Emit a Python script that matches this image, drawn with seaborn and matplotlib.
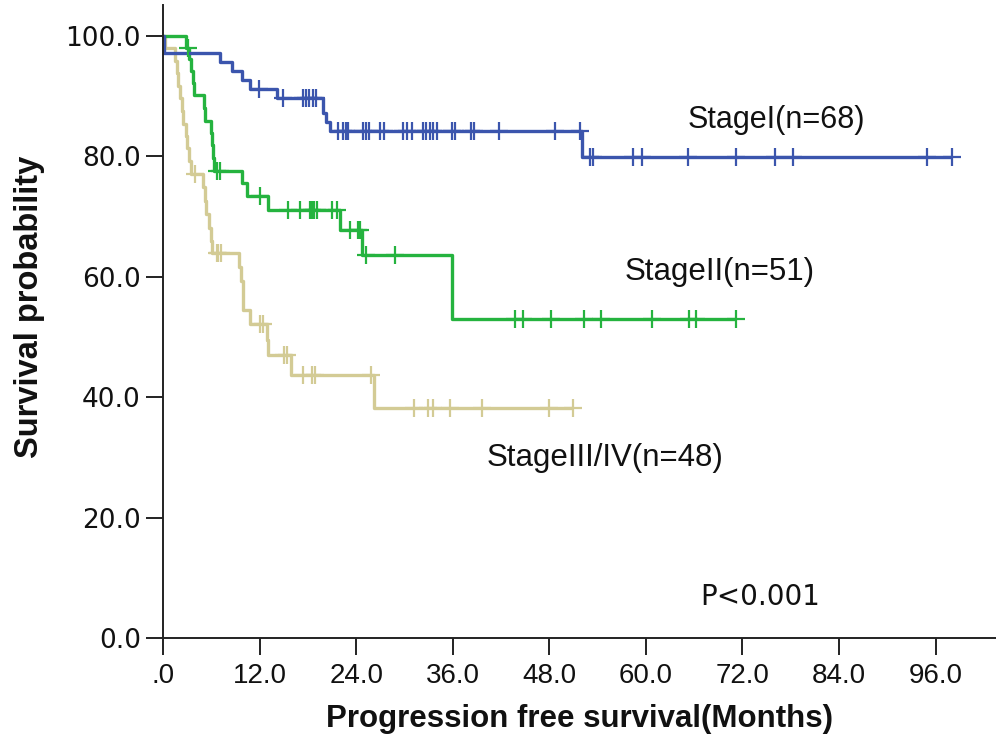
import numpy as np
import pandas as pd
import matplotlib
matplotlib.use("Agg")
import matplotlib.pyplot as plt
import seaborn as sns

# Kaplan-Meier steps (months, survival %) and censoring times per stage
stage1_event_t = [0.1, 7.1, 8.6, 9.8, 10.8, 14.2, 19.9, 20.2, 20.7, 52.0]
stage1_event_s = [97.1, 95.6, 94.1, 92.6, 91.2, 89.7, 87.2, 85.7, 84.2, 79.8]
stage1_censor_t = [11.9, 14.9, 17.4, 17.8, 18.1, 18.6, 19.0, 21.7, 22.4, 22.7, 23.0,
                   24.8, 25.2, 25.6, 27.0, 27.5, 29.8, 30.3, 30.9, 32.3, 32.7, 33.2,
                   33.5, 34.0, 35.9, 36.3, 38.3, 38.6, 41.7, 48.7, 51.8, 53.0, 53.4,
                   58.4, 59.5, 65.2, 71.2, 76.1, 78.3, 94.9, 98.0]

stage2_event_t = [2.9, 3.2, 3.5, 3.7, 3.9, 5.1, 5.2, 6.0, 6.1, 6.2, 6.3, 9.8, 10.4,
                  13.0, 22.0, 24.7, 35.9]
stage2_event_s = [98.0, 96.1, 94.1, 92.1, 90.1, 88.0, 85.9, 83.9, 81.8, 79.7, 77.6,
                  75.6, 73.4, 71.0, 67.8, 63.6, 53.0]
stage2_censor_t = [3.1, 6.7, 7.1, 12.0, 15.5, 17.0, 18.3, 18.5, 18.8, 19.1, 21.0,
                   21.6, 23.2, 24.2, 24.5, 25.2, 28.8, 43.7, 44.7, 48.2, 52.3, 54.4,
                   60.7, 65.3, 66.2, 71.2]

stage3_event_t = [0.2, 1.5, 1.7, 1.9, 2.1, 2.3, 2.5, 2.8, 3.0, 3.2, 3.5, 5.0, 5.2,
                  5.3, 5.7, 6.0, 6.1, 9.4, 9.7, 9.9, 10.0, 10.8, 12.9, 13.0, 15.9, 26.2]
stage3_event_s = [97.9, 95.8, 93.8, 91.7, 89.6, 87.5, 85.4, 83.3, 81.3, 79.2, 77.1,
                  74.9, 72.6, 70.4, 68.1, 65.9, 64.0, 61.6, 59.2, 56.8, 54.5, 52.1,
                  49.5, 47.0, 43.6, 38.2]
stage3_censor_t = [4.0, 6.7, 6.8, 7.2, 12.0, 12.4, 15.0, 15.4, 17.4, 18.5, 18.9,
                   25.8, 31.2, 32.9, 33.5, 35.7, 39.6, 48.0, 50.9]

group_labels = ["StageI(n=68)", "StageII(n=51)", "StageIII/IV(n=48)"]
group_colors = ["#3b55ad", "#25b33f", "#d3cb95"]
x_ticks = [0, 12, 24, 36, 48, 60, 72, 84, 96]
x_tick_labels = [".0", "12.0", "24.0", "36.0", "48.0", "60.0", "72.0", "84.0", "96.0"]
y_ticks = [0, 20, 40, 60, 80, 100]
y_tick_labels = ["0.0", "20.0", "40.0", "60.0", "80.0", "100.0"]
p_text = "P<0.001"

sns.set_style("white")
plt.rcParams["font.family"] = ["Liberation Sans", "DejaVu Sans"]

fig = plt.figure(figsize=(9.96, 7.41), dpi=100)
ax = fig.add_axes([163 / 996, 1 - 638 / 741, (996 - 163) / 996, (638 - 5) / 741])


def curve_frame(ev_t, ev_s, cen_t, name):
    t_end = max(cen_t[-1], ev_t[-1])
    t = [0.0] + list(ev_t) + [t_end]
    s = [100.0] + list(ev_s) + [ev_s[-1]]
    steps = pd.DataFrame({"time": t, "surv": s, "group": name})
    idx = np.searchsorted(np.array(ev_t), np.array(cen_t), side="right")
    s_arr = np.array([100.0] + list(ev_s))
    cens = pd.DataFrame({"time": cen_t, "surv": s_arr[idx], "group": name})
    return steps, cens


curves = [
    (stage1_event_t, stage1_event_s, stage1_censor_t),
    (stage2_event_t, stage2_event_s, stage2_censor_t),
    (stage3_event_t, stage3_event_s, stage3_censor_t),
]

# draw later groups first so Stage I sits on top
for (ev_t, ev_s, cen_t), name, col in reversed(list(zip(curves, group_labels, group_colors))):
    steps, cens = curve_frame(ev_t, ev_s, cen_t, name)
    sns.lineplot(data=steps, x="time", y="surv", color=col, lw=2.4,
                 drawstyle="steps-post", estimator=None, sort=False, ax=ax,
                 solid_capstyle="butt")
    sns.scatterplot(data=cens, x="time", y="surv", marker="+", s=150,
                    color=col, linewidth=1.6, ax=ax, zorder=3)

ax.set_xlim(0, 103.5)
ax.set_ylim(0, 105.1)
ax.set_xticks(x_ticks)
ax.set_xticklabels(x_tick_labels, fontsize=20)
ax.set_yticks(y_ticks)
ax.set_yticklabels(y_tick_labels, family="DejaVu Sans", fontsize=19)
ax.tick_params(axis="both", direction="out", length=12, width=1.4, color="#222222",
               labelcolor="#111111", left=True, bottom=True)
ax.tick_params(axis="x", pad=6)
ax.tick_params(axis="y", pad=4)

for side in ["top", "right"]:
    ax.spines[side].set_visible(False)
for side in ["left", "bottom"]:
    ax.spines[side].set_color("#222222")
    ax.spines[side].set_linewidth(1.4)

ax.set_xlabel("Progression free survival(Months)", fontweight="bold",
              fontsize=22.5, color="#111111")
ax.set_ylabel("Survival probability", fontweight="bold",
              fontsize=23.5, color="#111111")
ax.xaxis.set_label_coords(0.5006, -0.105)
ax.yaxis.set_label_coords(-0.1417, 0.523)

ax.text(65.2, 86.0, group_labels[0], fontsize=22, va="center", ha="left", color="#111111")
ax.text(57.4, 60.8, group_labels[1], fontsize=22.5, va="center", ha="left", color="#111111")
ax.text(40.2, 29.9, group_labels[2], fontsize=22.5, va="center", ha="left", color="#111111")
ax.text(66.7, 6.8, p_text, family="DejaVu Sans", fontsize=20, va="center", ha="left",
        color="#111111")

fig.savefig("out.png", dpi=100)
